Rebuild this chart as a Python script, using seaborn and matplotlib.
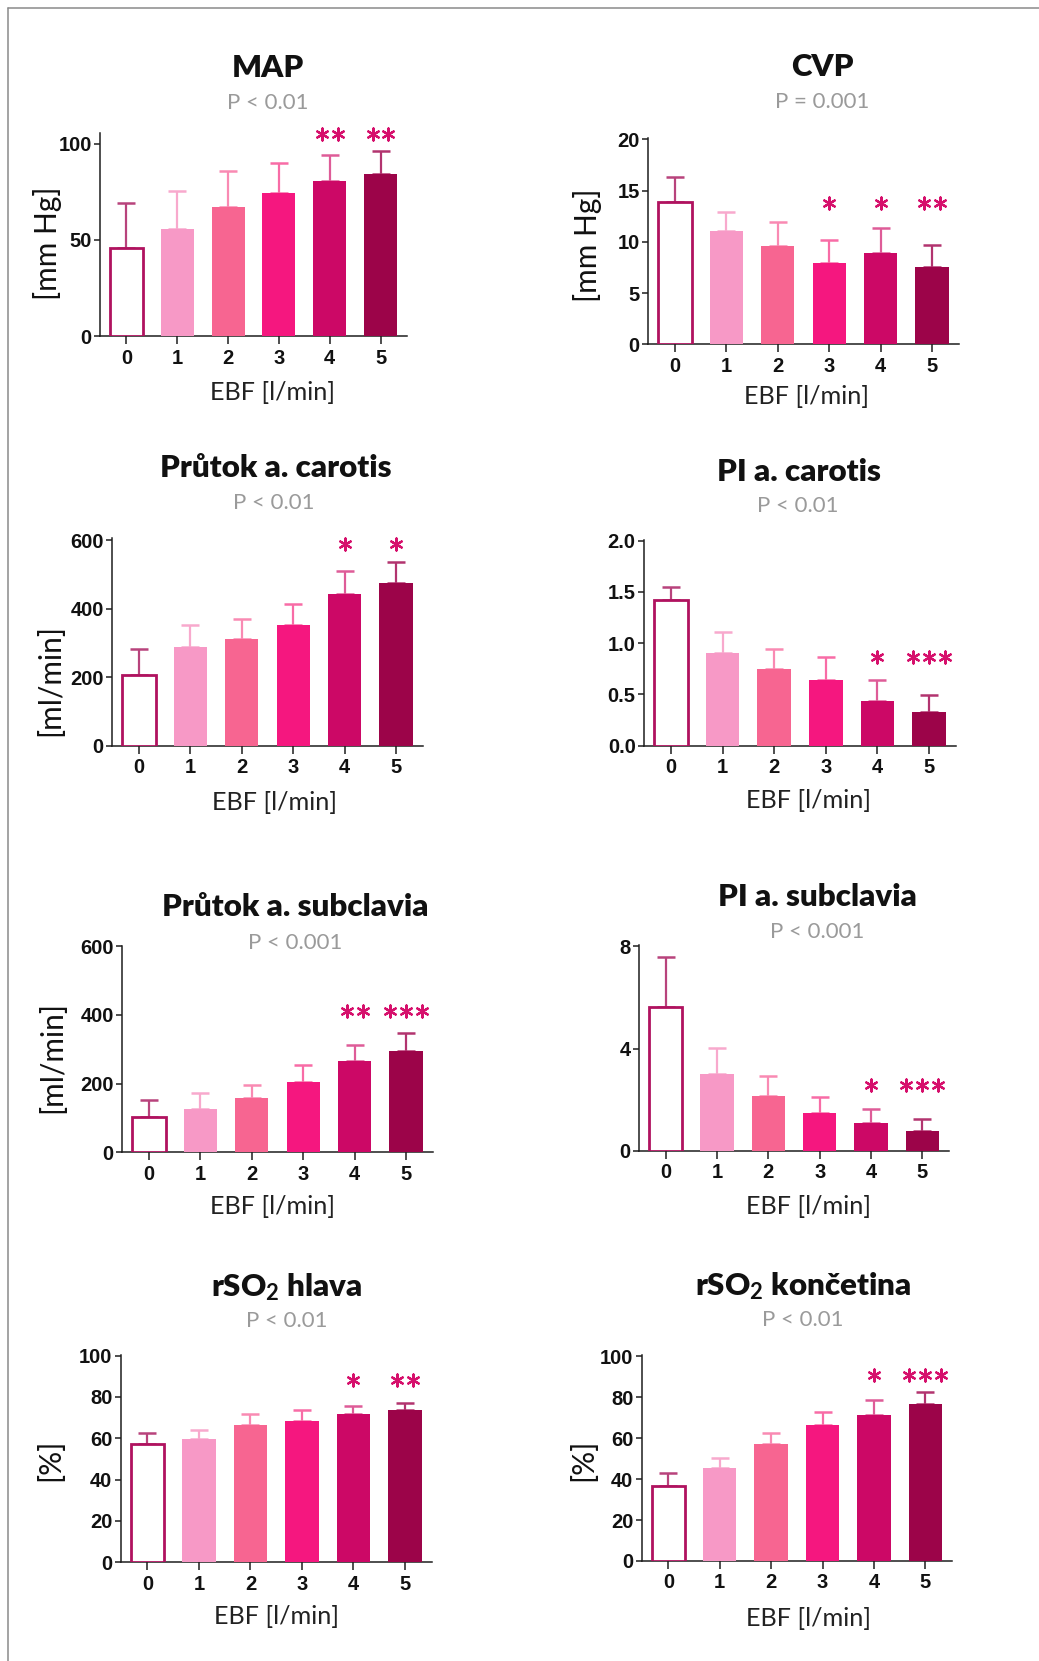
import numpy as np
import pandas as pd
import matplotlib
matplotlib.use("Agg")
import matplotlib.pyplot as plt
import seaborn as sns
from matplotlib.lines import Line2D

# ---- data -------------------------------------------------------------
ebf_levels = ["0", "1", "2", "3", "4", "5"]

map_mean = [46.0, 55.6, 67.0, 74.2, 80.8, 84.3]
map_sd = [23.3, 20.0, 18.9, 15.9, 13.5, 12.0]
map_sig = ["", "", "", "", "**", "**"]

cvp_mean = [13.9, 11.05, 9.6, 7.9, 8.9, 7.5]
cvp_sd = [2.4, 1.85, 2.3, 2.3, 2.4, 2.2]
cvp_sig = ["", "", "", "*", "*", "**"]

carotis_flow_mean = [205, 288, 310, 353, 443, 476]
carotis_flow_sd = [77, 64, 60, 60, 67, 59]
carotis_flow_sig = ["", "", "", "", "*", "*"]

carotis_pi_mean = [1.42, 0.90, 0.75, 0.64, 0.44, 0.33]
carotis_pi_sd = [0.13, 0.21, 0.19, 0.22, 0.20, 0.16]
carotis_pi_sig = ["", "", "", "", "*", "***"]

subclavia_flow_mean = [103, 127, 157, 205, 266, 295]
subclavia_flow_sd = [49, 45, 40, 50, 46, 53]
subclavia_flow_sig = ["", "", "", "", "**", "***"]

subclavia_pi_mean = [5.62, 2.99, 2.13, 1.50, 1.08, 0.79]
subclavia_pi_sd = [1.94, 1.04, 0.80, 0.61, 0.57, 0.47]
subclavia_pi_sig = ["", "", "", "", "*", "***"]

rso2_head_mean = [57.1, 59.8, 66.3, 68.5, 71.8, 73.5]
rso2_head_sd = [5.5, 4.1, 5.3, 5.0, 4.0, 3.6]
rso2_head_sig = ["", "", "", "", "*", "**"]

rso2_limb_mean = [36.6, 45.4, 57.1, 66.2, 71.4, 76.7]
rso2_limb_sd = [6.5, 5.0, 5.3, 6.3, 7.0, 5.9]
rso2_limb_sig = ["", "", "", "", "*", "***"]

titles = ["MAP", "CVP", "Průtok a. carotis", "PI a. carotis",
          "Průtok a. subclavia", "PI a. subclavia",
          "rSO$_2$ hlava", "rSO$_2$ končetina"]
p_values = ["P < 0.01", "P = 0.001", "P < 0.01", "P < 0.01",
            "P < 0.001", "P < 0.001", "P < 0.01", "P < 0.01"]
y_labels = ["[mm Hg]", "[mm Hg]", "[ml/min]", "", "[ml/min]", "", "[%]", "[%]"]
y_ticks = [[0, 50, 100], [0, 5, 10, 15, 20], [0, 200, 400, 600],
           [0.0, 0.5, 1.0, 1.5, 2.0], [0, 200, 400, 600], [0, 4, 8],
           [0, 20, 40, 60, 80, 100], [0, 20, 40, 60, 80, 100]]
y_tick_labels = [["0", "50", "100"], ["0", "5", "10", "15", "20"],
                 ["0", "200", "400", "600"],
                 ["0.0", "0.5", "1.0", "1.5", "2.0"],
                 ["0", "200", "400", "600"], ["0", "4", "8"],
                 ["0", "20", "40", "60", "80", "100"],
                 ["0", "20", "40", "60", "80", "100"]]

means = [map_mean, cvp_mean, carotis_flow_mean, carotis_pi_mean,
         subclavia_flow_mean, subclavia_pi_mean, rso2_head_mean, rso2_limb_mean]
sds = [map_sd, cvp_sd, carotis_flow_sd, carotis_pi_sd,
       subclavia_flow_sd, subclavia_pi_sd, rso2_head_sd, rso2_limb_sd]
sigs = [map_sig, cvp_sig, carotis_flow_sig, carotis_pi_sig,
        subclavia_flow_sig, subclavia_pi_sig, rso2_head_sig, rso2_limb_sig]

# ---- style ------------------------------------------------------------
bar_colors = ["#FFFFFF", "#F799C6", "#F76591", "#F5177F", "#CC0866", "#9C0449"]
err_colors = ["#B8437C", "#F8A9CD", "#F98AB3", "#F86CA6", "#DE5C98", "#B2346F"]
outline_color = "#B0125F"
star_color = "#D6106C"
axis_color = "#1E1E1E"

sns.set_theme(style="ticks")
plt.rcParams["font.family"] = ["Lato", "DejaVu Sans"]
plt.rcParams["mathtext.fontset"] = "custom"
plt.rcParams["mathtext.rm"] = "Lato:bold"
plt.rcParams["mathtext.it"] = "Lato:bold"
plt.rcParams["mathtext.bf"] = "Lato:bold"

W, H = 1039, 1661
fig = plt.figure(figsize=(W / 100, H / 100), dpi=100)
fig.patch.set_facecolor("white")


def fx(x):
    return x / W


def fy(y):
    return 1 - y / H


# page frame (left and top edges)
fig.add_artist(Line2D([fx(7.5), fx(7.5)], [0, fy(7.5)], color="#8A8A8A", lw=1.1))
fig.add_artist(Line2D([fx(7.5), 1], [fy(7.5), fy(7.5)], color="#8A8A8A", lw=1.1))

# panel boxes in pixels: left, right, bottom, top of y spine
boxes = [(100, 407, 336, 133), (648, 959, 344.3, 137.7),
         (112, 423, 745.7, 538.3), (644, 956, 745.7, 540),
         (122, 433, 1152.3, 946), (639, 949, 1151, 945),
         (120.7, 431.7, 1562.3, 1355), (641.7, 952, 1561, 1355)]
y_tops = [105.7, 20.16, 605, 2.005, 600, 8.04, 100.3, 100.5]
star_levels = [105, 13.75, 588, 0.862, 412, 2.58, 88.2, 90.7]
title_pos = [(268, 68), (822, 67), (276, 468), (799, 472),
             (295, 907), (817, 897), (287, 1287), (803, 1286)]
sub_pos = [(268, 103), (822, 102), (274, 503), (798, 506),
           (295, 943), (817, 932), (287, 1321), (803, 1320)]
xlabel_pos = [(273, 392), (807, 397), (275, 802), (809, 800),
              (273, 1207), (809, 1207), (276, 1617), (809, 1619)]
ylabel_pos = [(47, 243), (588, 245), (50, 680), None,
              (52, 1057), None, (50, 1460), (583, 1460)]

for k in range(8):
    l, r, b, t = boxes[k]
    ax = fig.add_axes([fx(l), fy(b), (r - l) / W, (b - t) / H])
    df = pd.DataFrame({"EBF": ebf_levels, "value": means[k]})
    sns.barplot(data=df, x="EBF", y="value", hue="EBF", palette=bar_colors,
                order=ebf_levels, hue_order=ebf_levels, legend=False,
                width=0.65, errorbar=None, saturation=1, ax=ax, zorder=3,
                edgecolor="none", linewidth=0)
    first = ax.patches[0]
    first.set_edgecolor(outline_color)
    first.set_linewidth(2.0)
    first.set_facecolor("white")

    xs = np.arange(len(ebf_levels))
    for i in range(len(ebf_levels)):
        ax.errorbar(xs[i], means[k][i], yerr=[[0], [sds[k][i]]], fmt="none",
                    ecolor=err_colors[i], elinewidth=1.6, capsize=6.5,
                    capthick=1.8, zorder=2)

    # significance asterisks
    spacing = 0.31
    for i, s in enumerate(sigs[k]):
        n = len(s)
        if n == 0:
            continue
        offs = (np.arange(n) - (n - 1) / 2) * spacing
        ax.scatter(xs[i] + offs, [star_levels[k]] * n, marker=(6, 2, 0),
                   s=75, linewidths=1.6, color=star_color, zorder=5,
                   clip_on=False)

    ax.set_xlim(-0.52, 5.52)
    ax.set_ylim(0, y_tops[k])
    ax.set_yticks(y_ticks[k])
    ax.set_yticklabels(y_tick_labels[k])
    ax.set_xticks(xs)
    ax.set_xticklabels(ebf_levels)
    for lab in ax.get_xticklabels() + ax.get_yticklabels():
        lab.set_fontfamily(["Liberation Sans", "DejaVu Sans"])
        lab.set_fontweight("bold")
        lab.set_fontsize(14.5)
        lab.set_color("#111111")
    ax.tick_params(axis="y", length=4, width=1.1, color=axis_color, pad=2)
    ax.tick_params(axis="x", length=6, width=1.1, color=axis_color, pad=3)
    sns.despine(ax=ax)
    for side in ("left", "bottom"):
        ax.spines[side].set_color(axis_color)
        ax.spines[side].set_linewidth(1.1)
    ax.set_facecolor("white")

    ax.set_xlabel("EBF [l/min]", fontsize=18.2, color="#222222")
    xl = ax.xaxis.label
    xl.set_verticalalignment("center")
    ax.xaxis.set_label_coords(fx(xlabel_pos[k][0]), fy(xlabel_pos[k][1]),
                              transform=fig.transFigure)
    if ylabel_pos[k] is not None:
        ax.set_ylabel(y_labels[k], fontsize=21.5, color="#111111")
        ax.yaxis.label.set_verticalalignment("center")
        ax.yaxis.set_label_coords(fx(ylabel_pos[k][0]), fy(ylabel_pos[k][1]),
                                  transform=fig.transFigure)
    else:
        ax.set_ylabel("")

    fig.text(fx(title_pos[k][0]), fy(title_pos[k][1]), titles[k],
             ha="center", va="center", fontsize=22.5, fontweight="heavy",
             color="#111111")
    fig.text(fx(sub_pos[k][0]), fy(sub_pos[k][1]), p_values[k],
             ha="center", va="center", fontsize=16, color="#9A9A9A")

fig.savefig("out.png", dpi=100, facecolor="white")
